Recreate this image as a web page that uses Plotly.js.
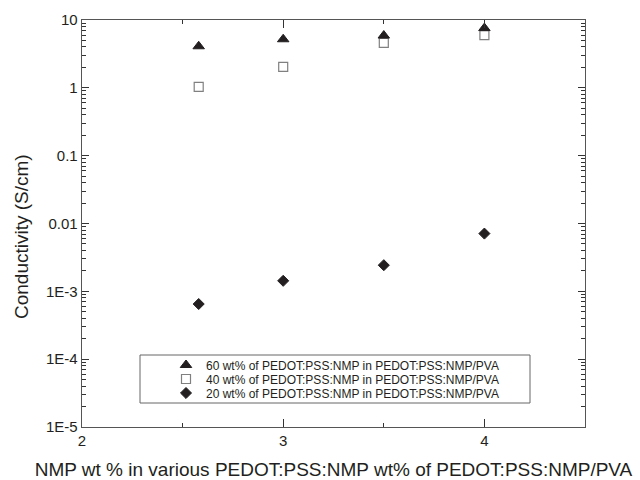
<!DOCTYPE html>
<html>
<head>
<meta charset="utf-8">
<script src="https://cdn.plot.ly/plotly-3.0.1.min.js"></script>
<style>html,body{margin:0;padding:0;background:#fff;}#chart{width:640px;height:480px;}</style>
</head>
<body>
<div id="chart"></div>
<script>
// NMP wt% (x positions)
const nmpWt = [2.58, 3, 3.5, 4];
// Conductivity (S/cm) for each PEDOT:PSS:NMP loading in PEDOT:PSS:NMP/PVA
const cond60 = [4.1, 5.2, 5.9, 7.6];
const cond40 = [1.03, 2.03, 4.6, 6.0];
const cond20 = [6.5e-4, 1.43e-3, 2.43e-3, 7.1e-3];

const seriesNames = [
  "60 wt% of PEDOT:PSS:NMP in PEDOT:PSS:NMP/PVA",
  "40 wt% of PEDOT:PSS:NMP in PEDOT:PSS:NMP/PVA",
  "20 wt% of PEDOT:PSS:NMP in PEDOT:PSS:NMP/PVA"
];

const yTickVals = [10, 1, 0.1, 0.01, 0.001, 0.0001, 0.00001];
const yTickText = ["10", "1", "0.1", "0.01", "1E-3", "1E-4", "1E-5"];
const xTickVals = [2, 3, 4];

const xTitle = "NMP wt % in various PEDOT:PSS:NMP wt% of PEDOT:PSS:NMP/PVA";
const yTitle = "Conductivity (S/cm)";

const dark = "#231f20";
const font = "'Liberation Sans', Arial, sans-serif";

const traces = [
  {
    x: nmpWt, y: cond40, name: seriesNames[1], type: "scatter", mode: "markers",
    legend: "legend2",
    marker: {symbol: "square-open", size: 9, color: "#808080", line: {width: 1.2, color: "#808080"}}
  },
  {
    x: nmpWt, y: cond20, name: seriesNames[2], type: "scatter", mode: "markers",
    legend: "legend3",
    marker: {symbol: "diamond", size: 8.5, color: dark, line: {width: 1, color: dark}}
  },
  {
    x: nmpWt, y: cond60, name: seriesNames[0], type: "scatter", mode: "markers",
    legend: "legend",
    marker: {symbol: "triangle-up", size: 10, color: dark, line: {width: 1, color: dark}}
  }
];

const plotL = 82, plotR = 585, plotT = 20, plotB = 427;
const pw = plotR - plotL, ph = plotB - plotT;
function px(xp) { return (xp - plotL) / pw; }
function py(yp) { return (plotB - yp) / ph; }

const legX = px(166);
function leg(yp) {
  return {x: legX, xanchor: "left", y: py(yp), yanchor: "middle",
          bgcolor: "rgba(0,0,0,0)", borderwidth: 0,
          font: {family: font, size: 12, color: dark}};
}

const layout = {
  width: 640, height: 480,
  margin: {l: plotL, r: 640 - plotR, t: plotT, b: 480 - plotB},
  paper_bgcolor: "#fff", plot_bgcolor: "#fff",
  showlegend: true,
  legend: leg(365),
  legend2: leg(379),
  legend3: leg(393),
  xaxis: {
    type: "linear", range: [2, 4.5],
    tickmode: "array", tickvals: xTickVals,
    ticks: "inside", ticklen: 8, tickwidth: 1.2, tickcolor: "#333",
    minor: {ticks: "inside", ticklen: 4, tickwidth: 1, tickcolor: "#333", dtick: 0.5, tick0: 2},
    showline: true, linecolor: "#555", linewidth: 1.3, mirror: "ticks",
    showgrid: false, zeroline: false,
    tickfont: {family: font, size: 15, color: dark},
    title: {text: xTitle, font: {family: font, size: 19, color: dark}, standoff: 17}
  },
  yaxis: {
    type: "log", range: [-5, 1],
    tickmode: "array", tickvals: yTickVals, ticktext: yTickText,
    ticks: "inside", ticklen: 7, tickwidth: 1.2, tickcolor: "#333",
    minor: {ticks: "inside", ticklen: 4, tickwidth: 1, tickcolor: "#333", dtick: "D1"},
    showline: true, linecolor: "#555", linewidth: 1.3, mirror: "ticks",
    showgrid: false, zeroline: false,
    tickfont: {family: font, size: 15, color: dark}
  },
  annotations: [{
    text: yTitle, textangle: -90, showarrow: false,
    xref: "paper", yref: "paper", x: px(21), y: py(237),
    xanchor: "center", yanchor: "middle",
    font: {family: font, size: 19, color: dark}
  }],
  shapes: [{
    type: "rect", xref: "paper", yref: "paper",
    x0: px(140), x1: px(530), y0: py(403), y1: py(355),
    line: {color: "#666", width: 1}, fillcolor: "rgba(0,0,0,0)", layer: "below"
  }]
};

Plotly.newPlot("chart", traces, layout, {displayModeBar: false, staticPlot: true});
</script>
</body>
</html>
